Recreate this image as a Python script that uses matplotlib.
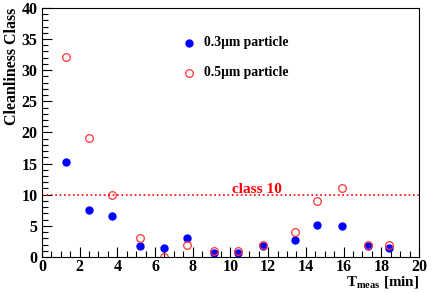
import numpy as np
import matplotlib.pyplot as plt
from matplotlib.ticker import MultipleLocator

# measurement times [min]
t_meas = [1.3, 2.5, 3.7, 5.2, 6.5, 7.7, 9.1, 10.4, 11.7, 13.4, 14.6, 15.9, 17.3, 18.4]
class_03 = [15.2, 7.6, 6.6, 1.7, 1.4, 3.1, 0.7, 0.7, 1.7, 2.8, 5.2, 4.9, 1.8, 1.4]
class_05 = [32.1, 19.1, 10.0, 3.0, 0.0, 2.0, 1.0, 1.0, 2.0, 4.0, 9.0, 11.1, 2.0, 2.0]
class_limit = 10

plt.rcParams['font.family'] = ['Liberation Serif', 'DejaVu Serif']
plt.rcParams['font.weight'] = 'bold'
plt.rcParams['mathtext.fontset'] = 'custom'
plt.rcParams['mathtext.rm'] = 'Liberation Serif:bold'
plt.rcParams['mathtext.bf'] = 'Liberation Serif:bold'

fig = plt.figure(figsize=(4.32, 2.93), dpi=100)
ax = fig.add_axes([0.097, 0.123, 0.873, 0.850])

ax.plot(t_meas, class_03, 'o', color='blue', markersize=5, linestyle='none')
ax.plot(t_meas, class_05, 'o', markerfacecolor='none', markeredgecolor='#ff3333',
        markersize=5.5, markeredgewidth=0.9, linestyle='none')

ax.axhline(class_limit, color='red', linestyle=':', linewidth=1.2)
ax.text(11.43, class_limit + 0.3, 'class 10', color='red', fontsize=11,
        fontweight='bold', ha='center', va='baseline')

# legend drawn by hand, ROOT style
ax.plot([7.8], [34.4], 'o', color='blue', markersize=5)
ax.plot([7.8], [29.6], 'o', markerfacecolor='none', markeredgecolor='#ff3333',
        markersize=5.5, markeredgewidth=0.9)
ax.text(8.6, 34.4, '0.3\u03bcm particle', fontsize=9.8, fontweight='bold', va='center')
ax.text(8.6, 29.6, '0.5\u03bcm particle', fontsize=9.8, fontweight='bold', va='center')

ax.set_xlim(0, 20)
ax.set_ylim(0, 40)
ax.xaxis.set_major_locator(MultipleLocator(2))
ax.xaxis.set_minor_locator(MultipleLocator(0.5))
ax.yaxis.set_major_locator(MultipleLocator(5))
ax.yaxis.set_minor_locator(MultipleLocator(1))
ax.tick_params(which='both', direction='in', top=False, right=False,
               labelsize=11.5, width=0.8, pad=3)
ax.tick_params(axis='x', which='both', pad=1.5)
ax.tick_params(which='major', length=7)
ax.tick_params(which='minor', length=4)
for lab in ax.get_xticklabels() + ax.get_yticklabels():
    lab.set_fontweight('bold')

# axis titles, right-aligned like ROOT
fig.text(12 / 432, 1 - 8 / 293, 'Cleanliness Class', rotation=90, fontsize=11.5,
         fontweight='bold', ha='center', va='top')
fig.text(419 / 432, 1 - 286.5 / 293, r'T$_{\mathbf{meas}}$ [min]', fontsize=10.8,
         fontweight='bold', ha='right', va='baseline')

fig.savefig('out.png', dpi=100)
